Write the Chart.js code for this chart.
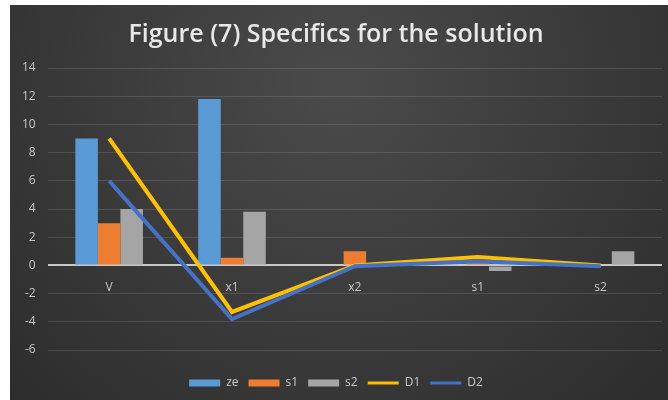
<!DOCTYPE html>
<html lang="en">

<head>
    <meta charset="UTF-8">
    <title>Figure (7) Specifics for the solution</title>
    <script src="https://cdn.jsdelivr.net/npm/chart.js@4.4.0/dist/chart.umd.min.js"></script>
    <style>
        body { margin: 0; background: #fff; overflow: hidden; }
        #wrap { position: absolute; left: 10px; top: 5px; width: 658px; height: 395px; }
    </style>
</head>

<body>

    <div id="wrap"><canvas id="myChart"></canvas></div>
    <script>

        // values
        const categories = ['V', 'x1', 'x2', 's1', 's2'];
        const ze = [9, 11.8, 0, 0, 0];
        const s1 = [3, 0.55, 1, 0.2, 0];
        const s2 = [4, 3.8, 0, -0.4, 1];
        const D1 = [9, -3.3, 0, 0.6, 0];
        const D2 = [6, -3.8, -0.05, 0.3, -0.05];
        const yTicks = [-6, -4, -2, 0, 2, 4, 6, 8, 10, 12, 14];

        // dark excel-ish background
        const bgPlugin = {
            id: 'bg',
            beforeDraw(chart) {
                const { ctx, width, height } = chart;
                let g = ctx.createRadialGradient(width / 2, height * 0.2, 10, width / 2, height * 0.2, width * 0.75);
                g.addColorStop(0, '#4a4a4a');
                g.addColorStop(1, '#2a2a2a');
                ctx.save();
                ctx.fillStyle = g;
                ctx.fillRect(0, 0, width, height);
                ctx.restore();
            }
        };

        let ctx = document.getElementById('myChart').getContext('2d');
        let myChart = new Chart(ctx, {
            type: 'bar',
            data: {
                labels: categories,
                datasets: [
                    { label: 'ze', data: ze, backgroundColor: '#5B9BD5', order: 2 },
                    { label: 's1', data: s1, backgroundColor: '#ED7D31', order: 2 },
                    { label: 's2', data: s2, backgroundColor: '#A5A5A5', order: 2 },
                    { type: 'line', label: 'D1', data: D1, borderColor: '#FFC000', backgroundColor: '#FFC000', borderWidth: 4, pointRadius: 0, order: 1 },
                    { type: 'line', label: 'D2', data: D2, borderColor: '#4472C4', backgroundColor: '#4472C4', borderWidth: 4, pointRadius: 0, order: 0 }
                ]
            },
            options: {
                responsive: true,
                maintainAspectRatio: false,
                animation: false,
                datasets: {
                    bar: { categoryPercentage: 0.55, barPercentage: 1 }
                },
                layout: { padding: { left: 0, right: 6, top: 0, bottom: 1 } },
                plugins: {
                    title: {
                        display: true,
                        text: 'Figure (7) Specifics for the solution',
                        color: '#e8e8e8',
                        font: { family: 'Open Sans', size: 25, weight: '600' },
                        padding: { top: 15, bottom: 18 }
                    },
                    legend: {
                        position: 'bottom',
                        labels: {
                            color: '#c8c8c8',
                            font: { family: 'Open Sans', size: 12 },
                            usePointStyle: true,
                            pointStyleWidth: 31,
                            boxHeight: 7,
                            padding: 10,
                            generateLabels(chart) {
                                return chart.data.datasets.map((ds, i) => ({
                                    text: ds.label,
                                    fillStyle: ds.backgroundColor,
                                    strokeStyle: ds.type === 'line' ? ds.borderColor : ds.backgroundColor,
                                    lineWidth: ds.type === 'line' ? 3 : 0,
                                    pointStyle: ds.type === 'line' ? 'line' : 'rect',
                                    fontColor: '#c8c8c8',
                                    datasetIndex: i
                                }));
                            }
                        }
                    },
                    tooltip: { enabled: false }
                },
                scales: {
                    x: {
                        position: { y: 0 },
                        grid: { display: false, drawTicks: false },
                        border: { display: false },
                        ticks: { color: '#c8c8c8', font: { family: 'Open Sans', size: 12 }, padding: 15 }
                    },
                    y: {
                        min: -7.2,
                        max: yTicks[yTicks.length - 1],
                        afterBuildTicks(axis) {
                            axis.ticks = yTicks.map(v => ({ value: v }));
                        },
                        border: { display: false },
                        grid: {
                            drawTicks: false,
                            color: c => c.tick && c.tick.value === 0 ? '#c8c8c8' : 'rgba(255,255,255,0.12)',
                            lineWidth: c => c.tick && c.tick.value === 0 ? 2 : 1
                        },
                        ticks: { color: '#c8c8c8', font: { family: 'Open Sans', size: 12 }, padding: 12 }
                    }
                }
            },
            plugins: [bgPlugin]
        });

    </script>

</body>

</html>
